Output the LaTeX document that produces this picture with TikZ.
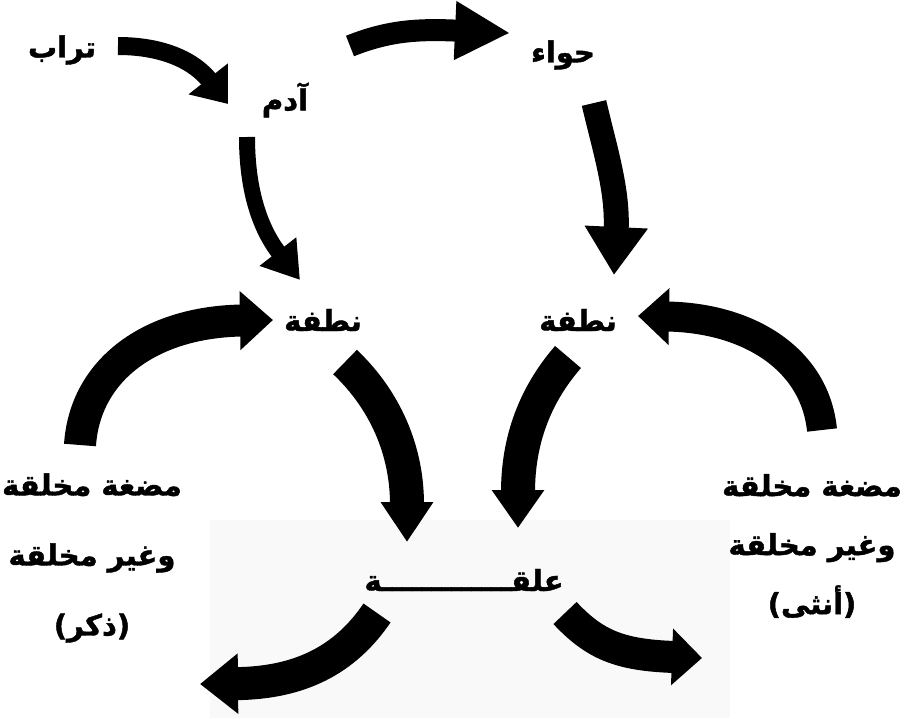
\documentclass[tikz,border=0pt]{standalone}
\usepackage{fontspec}
\usetikzlibrary{arrows.meta}
\TeXXeTstate=1
\newfontfamily\arabicfont[Script=Arabic,BoldFeatures={FakeBold=1.5}]{DejaVu Sans}
\begin{document}
\begin{tikzpicture}[x=1pt,y=-1pt,
  lbl/.style={inner sep=0pt,font=\arabicfont\bfseries\fontsize{29}{34}\selectfont},
  blkarrow/.style n args={3}{line width=#1,draw=black,
     -{Triangle[width=#2pt,length=#3pt]}}]
\useasboundingbox (0,0) rectangle (909,718);
\fill[black!2.5] (210,520) rectangle (730,718);
% labels
\node[lbl] (turab) at (62,50) {\beginR تراب\endR};
\node[lbl] (adam) at (285,100) {\beginR آدم\endR};
\node[lbl] (hawa) at (563,55) {\beginR حواء\endR};
\node[lbl] (nutfaL) at (323,320) {\beginR نطفة\endR};
\node[lbl] (nutfaR) at (578,320) {\beginR نطفة\endR};
\node[lbl] (alaqa) at (464,580) {\beginR علقـــــــــــــة\endR};
\node[lbl,align=center,font=\arabicfont\bfseries\fontsize{29}{70}\selectfont] (mudL) at (92,558)
  {\beginR مضغة مخلقة\endR\\\beginR وغير مخلقة\endR\\\beginR (ذكر)\endR};
\node[lbl,align=center,font=\arabicfont\bfseries\fontsize{29}{59}\selectfont] (mudR) at (812,546)
  {\beginR مضغة مخلقة\endR\\\beginR وغير مخلقة\endR\\\beginR (أنثى)\endR};
% arrow end points
\coordinate (a1s) at (118,46);  \coordinate (a1e) at (228,104);
\coordinate (a2s) at (247,137); \coordinate (a2e) at (300,280);
\coordinate (a3s) at (350,46);  \coordinate (a3e) at (510,33);
\coordinate (a4s) at (594,103); \coordinate (a4e) at (614,275);
\coordinate (a5s) at (80,445);  \coordinate (a5e) at (273,320);
\coordinate (a6s) at (345,362); \coordinate (a6e) at (407,542);
\coordinate (a7s) at (822,430); \coordinate (a7e) at (638,316);
\coordinate (a8s) at (568,357); \coordinate (a8e) at (518,528);
\coordinate (a9s) at (377,613); \coordinate (a9e) at (200,684);
\coordinate (a10s) at (565,613); \coordinate (a10e) at (702,658);
% arrows
\draw[blkarrow={18pt}{48}{32}] (a1s) .. controls (165,46) and (195,62) .. (a1e);
\draw[blkarrow={16pt}{44}{36}] (a2s) .. controls (247,200) and (265,235) .. (a2e);
\draw[blkarrow={22pt}{55}{55}] (a3s) .. controls (390,30) and (420,29) .. (a3e);
\draw[blkarrow={25pt}{60}{48}] (a4s) .. controls (605,150) and (618,190) .. (a4e);
\draw[blkarrow={32pt}{57}{33}] (a5s) .. controls (85,370) and (150,322) .. (a5e);
\draw[blkarrow={34pt}{50}{40}] (a6s) .. controls (385,400) and (407,450) .. (a6e);
\draw[blkarrow={30pt}{55}{31}] (a7s) .. controls (815,360) and (750,318) .. (a7e);
\draw[blkarrow={34pt}{50}{38}] (a8s) .. controls (535,395) and (518,440) .. (a8e);
\draw[blkarrow={33pt}{58}{38}] (a9s) .. controls (345,660) and (300,683) .. (a9e);
\draw[blkarrow={32pt}{55}{30}] (a10s) .. controls (595,645) and (620,655) .. (a10e);
\end{tikzpicture}
\end{document}
